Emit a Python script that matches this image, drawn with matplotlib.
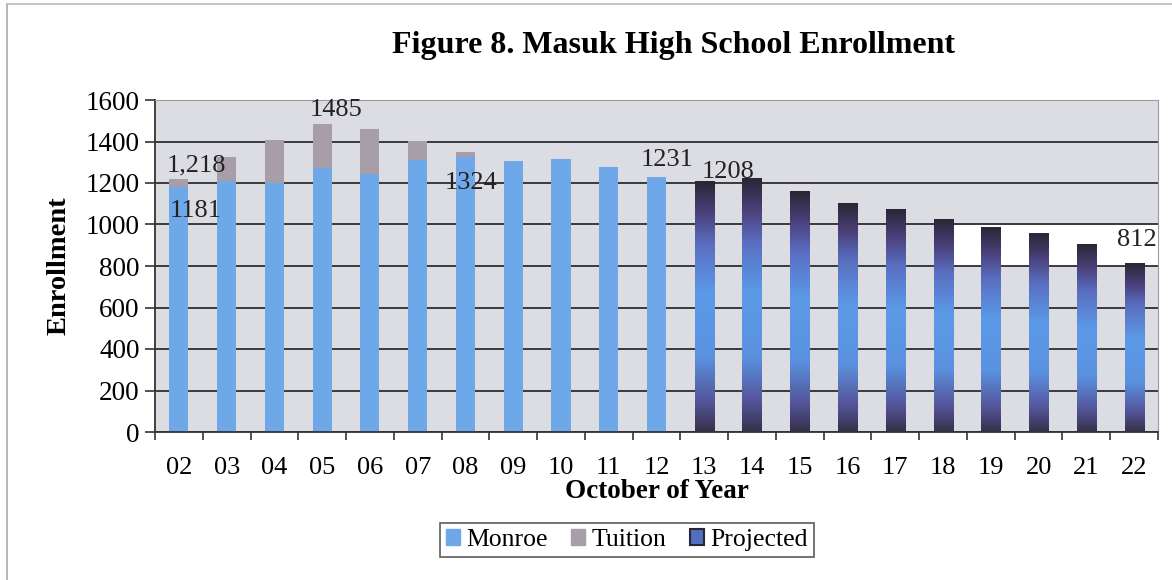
import numpy as np
import matplotlib
matplotlib.use("Agg")
import matplotlib.pyplot as plt
from matplotlib.colors import LinearSegmentedColormap
from matplotlib.patches import Rectangle
from matplotlib.lines import Line2D

plt.rcParams['font.family'] = ['Liberation Serif', 'DejaVu Serif']

# data
years = ['02', '03', '04', '05', '06', '07', '08', '09', '10', '11', '12',
         '13', '14', '15', '16', '17', '18', '19', '20', '21', '22']
monroe = [1181, 1210, 1200, 1270, 1243, 1311, 1324, 1305, 1315, 1276, 1231]
tuition = [37, 115, 207, 215, 217, 91, 26, 0, 0, 0, 0]
projected = [1208, 1220, 1157, 1103, 1074, 1025, 987, 958, 906, 812]

lbl_total = {0: '1,218', 3: '1485'}
lbl_monroe = {0: '1181', 6: '1324', 10: '1231'}
lbl_proj = {0: '1208', 9: '812'}

c_monroe = '#6fa8e8'
c_tuition = '#a89ea8'
bg = '#dcdce3'
grid_c = '#3a3a3a'
w = 0.4

fig = plt.figure(figsize=(11.72, 5.8), dpi=100)
ax = fig.add_axes([155/1172, 1-432/580, (1158-155)/1172, (432-100)/580])
ax.set_facecolor(bg)

n_hist = len(monroe)
x_hist = np.arange(n_hist)
x_proj = np.arange(n_hist, n_hist + len(projected))

# scan artifact: white patch at right
ax.add_patch(Rectangle((x_proj[5] + w/2, 800), len(years) - 0.5 - (x_proj[5] + w/2), 200,
                       facecolor='white', edgecolor='none', zorder=0.5))

ax.set_yticks(np.arange(0, 1601, 200))
ax.yaxis.grid(True, color=grid_c, linewidth=1.4)
ax.set_axisbelow(True)

ax.bar(x_hist, monroe, width=w, color=c_monroe, zorder=2)
ax.bar(x_hist, tuition, width=w, bottom=monroe, color=c_tuition, zorder=2)

# projected bars with vertical gradient
cmap = LinearSegmentedColormap.from_list('proj', [
    (0.0, '#36304a'), (0.12, '#54559a'), (0.3, '#5b92e0'), (0.55, '#5b9ae8'),
    (0.75, '#5a6ec0'), (0.88, '#4a3f78'), (1.0, '#2a2634')])
grad = np.linspace(0, 1, 256).reshape(-1, 1)
for xi, v in zip(x_proj, projected):
    ax.imshow(grad, cmap=cmap, aspect='auto', origin='lower',
              extent=[xi - w/2, xi + w/2, 0, v], zorder=2, interpolation='bilinear')
ax.set_xlim(-0.5, len(years) - 0.5)
ax.set_ylim(0, 1600)

# data labels
tot = [m + t for m, t in zip(monroe, tuition)]
lab_kw = dict(fontsize=19, ha='center', va='center', color='#222222', zorder=5)
ax.text(x_hist[0] + 0.37, tot[0] + 65, lbl_total[0], **lab_kw)
ax.text(x_hist[3] + 0.29, tot[3] + 65, lbl_total[3], **lab_kw)
ax.text(x_hist[0] + 0.35, monroe[0] - 115, lbl_monroe[0], **lab_kw)
ax.text(x_hist[6] + 0.12, monroe[6] - 125, lbl_monroe[6], **lab_kw)
ax.text(x_hist[10] + 0.22, monroe[10] + 80, lbl_monroe[10], **lab_kw)
ax.text(x_proj[0] + 0.5, projected[0] + 45, lbl_proj[0], **lab_kw)
ax.text(x_proj[9] + 0.06, projected[9] + 115, lbl_proj[9], **lab_kw)

ax.set_xticks(np.arange(len(years)))
ax.set_xticklabels(years)
ax.set_xticks(np.arange(-0.5, len(years), 1), minor=True)
ax.tick_params(axis='x', which='major', length=0, labelsize=19, pad=18)
ax.tick_params(axis='x', which='minor', length=6, width=1.2, color='#333333')
ax.tick_params(axis='y', length=7, width=1.2, color='#333333', labelsize=19.5, pad=4)

for s in ['left', 'bottom']:
    ax.spines[s].set_color('#333333')
    ax.spines[s].set_linewidth(1.3)
for s in ['top', 'right']:
    ax.spines[s].set_color('#9a9aa0')
    ax.spines[s].set_linewidth(0.8)

ax.set_ylabel('Enrollment', fontsize=20.5, fontweight='bold', labelpad=10)
ax.set_xlabel('October of Year', fontsize=19.5, fontweight='bold', labelpad=0)

fig.text(673/1172, 1-45/580, 'Figure 8. Masuk High School Enrollment',
         fontsize=23, fontweight='bold', ha='center', va='center')

handles = [Rectangle((0, 0), 1, 1, color=c_monroe),
           Rectangle((0, 0), 1, 1, color=c_tuition),
           Rectangle((0, 0), 1, 1, facecolor='#4f6fc0', edgecolor='#2a2634', linewidth=1.5)]
leg = fig.legend(handles, ['Monroe', 'Tuition', 'Projected'], loc='center',
                 bbox_to_anchor=(627/1172, 1-540/580), ncol=3, fontsize=18.5,
                 frameon=True, fancybox=False, handlelength=0.55, handleheight=0.55,
                 handletextpad=0.25, columnspacing=0.9, borderpad=0.25)
leg.get_frame().set_edgecolor('#333333')
leg.get_frame().set_linewidth(1.2)

# outer border of the scanned chart
fig.add_artist(Line2D([7/1172, 7/1172], [0, 1-4/580], color='#aaaaaa', linewidth=1.2))
fig.add_artist(Line2D([7/1172, 1], [1-4/580, 1-4/580], color='#bbbbbb', linewidth=1.2))

fig.savefig('out.png', dpi=100, facecolor='white')
